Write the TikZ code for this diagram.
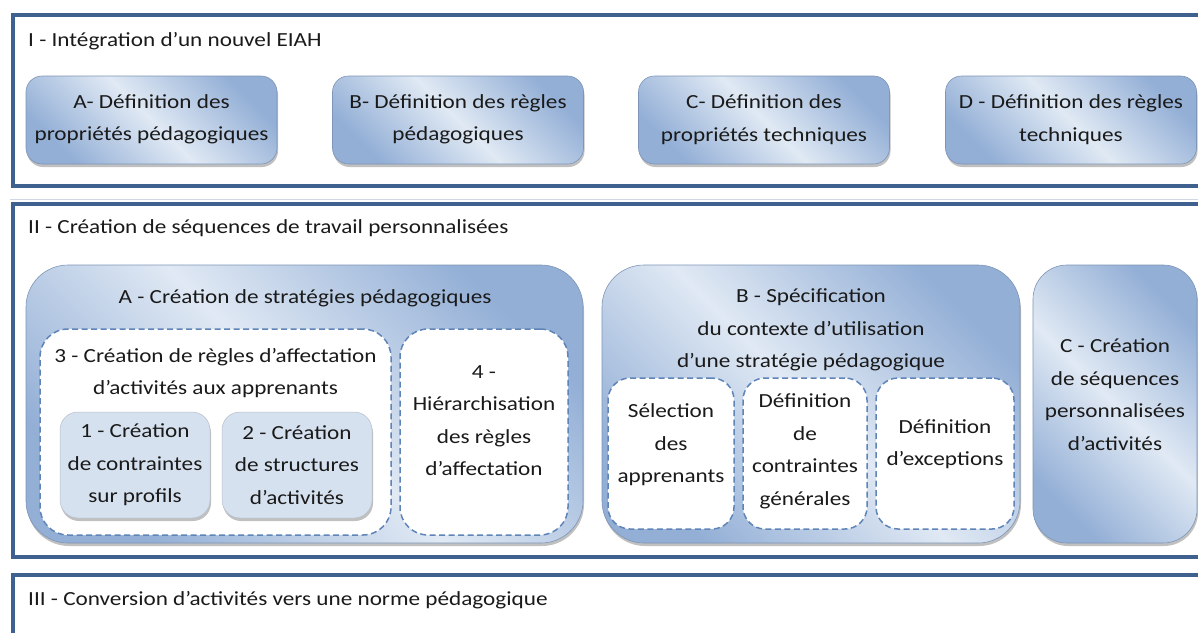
\documentclass[tikz,border=0pt]{standalone}
\usepackage{fontspec}
\setmainfont{Carlito}[FakeStretch=1.16]
\usetikzlibrary{shadows}
\definecolor{frameblue}{HTML}{3F6190}
\definecolor{gdark}{HTML}{93AFD6}
\definecolor{glight}{HTML}{E0E9F4}
\definecolor{innerblue}{HTML}{D6E1EF}
\definecolor{dashblue}{HTML}{5F84B8}
\definecolor{txt}{HTML}{1A1A1A}
\tikzset{
  frame/.style={draw=frameblue, line width=4pt},
  shadowed/.style={drop shadow={shadow xshift=1pt, shadow yshift=-3pt, opacity=0.35, fill=black!70}},
  gradbox/.style={shadowed, rectangle, rounded corners=#1, draw=gdark!85!black, line width=0.6pt,
     left color=gdark, right color=gdark, middle color=glight, shading angle=135, inner sep=0pt},
  flatbox/.style={shadowed, rectangle, rounded corners=#1, fill=innerblue, draw=innerblue!85!black, line width=0.5pt, inner sep=0pt},
  dashbox/.style={rectangle, rounded corners=#1, fill=white, draw=dashblue, line width=1.5pt, dash pattern=on 6pt off 3.5pt, inner sep=0pt},
  lbl/.style={text=txt, font=\fontsize{20}{32.5}\selectfont, align=center, inner sep=0pt},
  title/.style={text=txt, font=\fontsize{20}{24}\selectfont, anchor=west, inner sep=0pt}
}
\begin{document}
\begin{tikzpicture}[x=1pt,y=-1pt]
\useasboundingbox (0,0) rectangle (1198,632);
\clip (0,0) rectangle (1198,632);
\fill[white] (0,0) rectangle (1198,632);
% frames
\draw[frameblue!25, line width=1pt] (10,199) -- (1210,199);
\draw[frame] (12.5,15) rectangle (1215,185.5);
\draw[frame] (12.5,203.5) rectangle (1215,556.5);
\draw[frame] (12.5,575) rectangle (1215,660);
\node[title] (t1) at (28,41.5) {I - Intégration d’un nouvel EIAH};
\node[title] (t2) at (28,228.5) {II - Création de séquences de travail personnalisées};
\node[title] (t3) at (28,600.5) {III - Conversion d’activités vers une norme pédagogique};
% row I
\node[gradbox=16pt, minimum width=251pt, minimum height=88pt] (IA) at (151.5,120) {};
\node[gradbox=16pt, minimum width=251pt, minimum height=88pt] (IB) at (458,120) {};
\node[gradbox=16pt, minimum width=251pt, minimum height=88pt] (IC) at (764,120) {};
\node[gradbox=16pt, minimum width=251pt, minimum height=88pt] (ID) at (1071,120) {};
\node[lbl] (IAt) at (151.5,119.5) {A- Définition des\\propriétés pédagogiques};
\node[lbl] (IBt) at (458,119.5) {B- Définition des règles\\pédagogiques};
\node[lbl] (ICt) at (764,119.5) {C- Définition des\\propriétés techniques};
\node[lbl] (IDt) at (1071,119.5) {D - Définition des règles\\techniques};
% row II big boxes
\node[gradbox=42pt, minimum width=557pt, minimum height=278pt] (IIA) at (304.5,404) {};
\node[gradbox=42pt, minimum width=418pt, minimum height=278pt] (IIB) at (811,404) {};
\node[gradbox=34pt, minimum width=164pt, minimum height=278pt] (IIC) at (1115,404) {};
\node[lbl] (IIAt) at (305,298) {A - Création de stratégies pédagogiques};
\node[lbl] (IIBt) at (811,330) {B - Spécification\\du contexte d’utilisation\\d’une stratégie pédagogique};
\node[lbl] (IICt) at (1115,394.5) {C - Création\\de séquences\\personnalisées\\d’activités};
% inside A
\node[dashbox=28pt, minimum width=351pt, minimum height=206pt] (A3) at (215.5,432) {};
\node[dashbox=28pt, minimum width=168pt, minimum height=206pt] (A4) at (484,432) {};
\node[lbl] (A3t) at (215.5,373) {3 - Création de règles d’affectation\\d’activités aux apprenants};
\node[lbl] (A4t) at (484,420.5) {4 -\\Hiérarchisation\\des règles\\d’affectation};
\node[flatbox=18pt, minimum width=150pt, minimum height=106pt] (A1) at (135,465) {};
\node[flatbox=18pt, minimum width=150pt, minimum height=106pt] (A2) at (297,465) {};
\node[lbl] (A1t) at (135,465) {1 - Création\\de contraintes\\sur profils};
\node[lbl] (A2t) at (297,465) {2 - Création\\de structures\\d’activités};
% inside B
\node[dashbox=22pt, minimum width=126pt, minimum height=151pt] (B1) at (671,453.5) {};
\node[dashbox=22pt, minimum width=124pt, minimum height=151pt] (B2) at (805,453.5) {};
\node[dashbox=22pt, minimum width=138pt, minimum height=151pt] (B3) at (945,453.5) {};
\node[lbl] (B1t) at (671,445) {Sélection\\des\\apprenants};
\node[lbl] (B2t) at (805,451.5) {Définition\\de\\contraintes\\générales};
\node[lbl] (B3t) at (945,444) {Définition\\d’exceptions};
\end{tikzpicture}
\end{document}
